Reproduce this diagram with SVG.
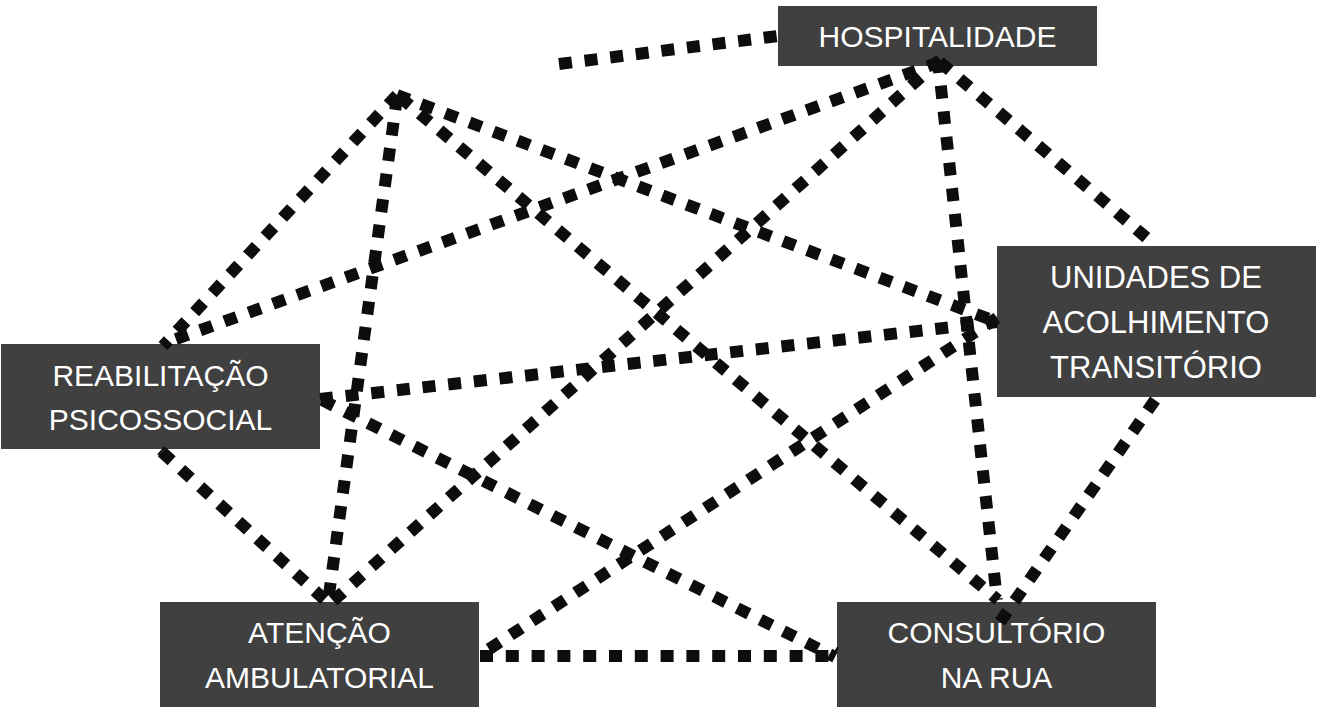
<svg xmlns="http://www.w3.org/2000/svg" width="1317" height="709" viewBox="0 0 1317 709">
<style>
.box{fill:#404040}
.lbl{fill:#ffffff;font-family:"Liberation Sans",Arial,sans-serif;font-size:30px;text-anchor:middle}
.big{font-size:31px}
.dot{fill:none;stroke:#0d0d0d;stroke-width:12;stroke-dasharray:13 12.8;stroke-linecap:butt}
.tick{fill:none;stroke:#0d0d0d;stroke-width:2}
</style>
<rect width="1317" height="709" fill="#ffffff"/>
<g id="hospitalidade">
<rect class="box" x="778" y="6" width="319" height="60"/>
<text class="lbl" x="937.5" y="47">HOSPITALIDADE</text>
</g>
<g id="unidades">
<rect class="box" x="997" y="246" width="319" height="151"/>
<text class="lbl big" x="1156" y="288">UNIDADES DE</text>
<text class="lbl big" x="1156" y="333">ACOLHIMENTO</text>
<text class="lbl big" x="1156" y="378">TRANSITÓRIO</text>
</g>
<g id="reabilitacao">
<rect class="box" x="1" y="344" width="319" height="105"/>
<text class="lbl" x="160.5" y="386">REABILITAÇÃO</text>
<text class="lbl" x="160.5" y="430">PSICOSSOCIAL</text>
</g>
<g id="atencao">
<rect class="box" x="160" y="602" width="319" height="105"/>
<text class="lbl" x="319.5" y="643">ATENÇÃO</text>
<text class="lbl" x="319.5" y="688">AMBULATORIAL</text>
</g>
<g id="consultorio">
<rect class="box" x="837" y="602" width="319" height="105"/>
<text class="lbl" x="996.5" y="643">CONSULTÓRIO</text>
<text class="lbl" x="996.5" y="688">NA RUA</text>
</g>
<g id="connectors">
<line class="dot" x1="559" y1="64" x2="778" y2="36"/>
<line class="dot" x1="397" y1="95" x2="163" y2="346"/>
<line class="dot" x1="397" y1="97" x2="328" y2="602"/>
<line class="dot" x1="397" y1="95" x2="997" y2="322"/>
<line class="dot" x1="400" y1="97" x2="998" y2="600"/>
<line class="dot" x1="940" y1="62" x2="165" y2="343"/>
<line class="dot" x1="940" y1="60" x2="332" y2="602"/>
<line class="dot" x1="938" y1="60" x2="997" y2="600"/>
<line class="dot" x1="940" y1="62" x2="1155" y2="245"/>
<line class="dot" x1="1155" y1="400" x2="1000" y2="622"/>
<line class="dot" x1="320" y1="399" x2="997" y2="322"/>
<line class="dot" x1="997" y1="318" x2="480" y2="655"/>
<line class="dot" x1="322" y1="400" x2="835" y2="657"/>
<line class="dot" x1="162" y1="452" x2="325" y2="600"/>
<line class="dot" x1="480" y1="656" x2="836" y2="656"/>
<line class="tick" x1="158" y1="455" x2="165" y2="447"/>
<line class="tick" x1="832" y1="658" x2="838" y2="647"/>
</g>
</svg>
